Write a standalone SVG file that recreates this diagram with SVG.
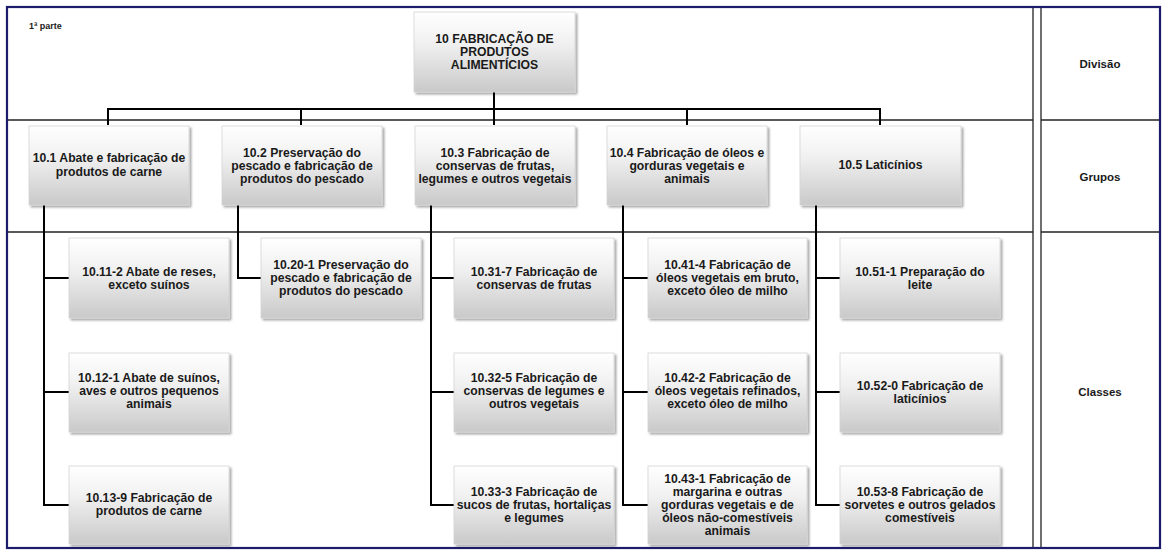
<svg xmlns="http://www.w3.org/2000/svg" width="1171" height="556" viewBox="0 0 1171 556">
<style>
.t{font-family:"Liberation Sans",Arial,sans-serif;font-weight:bold;font-size:12.2px;fill:#1a1a1a;text-anchor:middle}
.lbl{font-family:"Liberation Sans",Arial,sans-serif;font-weight:bold;font-size:11.5px;fill:#1a1a1a;text-anchor:middle}
.box{fill:url(#g);stroke:#d4d4d4;stroke-width:0.8;filter:url(#sh)}
.c{fill:none;stroke:#000;stroke-width:2}
.grid{fill:none;stroke:#222;stroke-width:1.3}
</style>
<defs>
<linearGradient id="g" x1="0" y1="0" x2="0" y2="1">
<stop offset="0" stop-color="#ffffff"/>
<stop offset="0.4" stop-color="#f0f0f0"/>
<stop offset="1" stop-color="#c9c9c9"/>
</linearGradient>
<filter id="sh" x="-10%" y="-10%" width="125%" height="130%">
<feDropShadow dx="2" dy="2" stdDeviation="1.2" flood-color="#000" flood-opacity="0.35"/>
</filter>
</defs>
<rect width="1171" height="556" fill="#fff"/>
<g id="frame">
<line class="grid" x1="7" y1="120" x2="1033" y2="120"/>
<line class="grid" x1="7" y1="232" x2="1033" y2="232"/>
<line class="grid" x1="1041" y1="120" x2="1160" y2="120"/>
<line class="grid" x1="1041" y1="232" x2="1160" y2="232"/>
<line class="grid" x1="1033" y1="7" x2="1033" y2="548"/>
<line class="grid" x1="1041" y1="7" x2="1041" y2="548"/>
<rect x="7" y="7" width="1153" height="541" fill="none" stroke="#1c1c6b" stroke-width="2.2"/>
<text x="29" y="29" font-family="Liberation Sans,Arial,sans-serif" font-weight="bold" font-size="9" fill="#1a1a1a">1ª parte</text>
<text class="lbl" x="1100" y="68">Divisão</text>
<text class="lbl" x="1100" y="181">Grupos</text>
<text class="lbl" x="1100" y="396">Classes</text>
</g>
<g id="connectors">
<path class="c" d="M494 92V125M108 125V109H880V125M301 109V125M687 109V125"/>
<path class="c" d="M44 205V505H69M44 278H69M44 392H69"/>
<path class="c" d="M238 205V278H261"/>
<path class="c" d="M431 205V505H454M431 278H454M431 392H454"/>
<path class="c" d="M623 205V505H648M623 278H648M623 392H648"/>
<path class="c" d="M816 205V505H840M816 278H840M816 392H840"/>
</g>
<g id="n10">
<rect class="box" x="414" y="12" width="161" height="80"/>
<text class="t" x="494.5" y="43">10 FABRICAÇÃO  DE</text>
<text class="t" x="494.5" y="56">PRODUTOS</text>
<text class="t" x="494.5" y="69">ALIMENTÍCIOS</text>
</g>
<g id="n10_1">
<rect class="box" x="29" y="126" width="160" height="79"/>
<text class="t" x="109" y="162">10.1 Abate e fabricação de</text>
<text class="t" x="109" y="176">produtos de carne</text>
</g>
<g id="n10_2">
<rect class="box" x="222" y="126" width="160" height="79"/>
<text class="t" x="302" y="157">10.2 Preservação do</text>
<text class="t" x="302" y="170">pescado e fabricação de</text>
<text class="t" x="302" y="183">produtos do pescado</text>
</g>
<g id="n10_3">
<rect class="box" x="415" y="126" width="160" height="79"/>
<text class="t" x="495" y="157">10.3 Fabricação de</text>
<text class="t" x="495" y="170">conservas de frutas,</text>
<text class="t" x="495" y="183">legumes  e outros vegetais</text>
</g>
<g id="n10_4">
<rect class="box" x="607" y="126" width="160" height="79"/>
<text class="t" x="687" y="157">10.4 Fabricação de óleos e</text>
<text class="t" x="687" y="170">gorduras vegetais e</text>
<text class="t" x="687" y="183">animais</text>
</g>
<g id="n10_5">
<rect class="box" x="800" y="126" width="161" height="79"/>
<text class="t" x="880.5" y="169">10.5 Laticínios</text>
</g>
<g id="n10_11">
<rect class="box" x="69" y="238" width="160" height="80"/>
<text class="t" x="149" y="276">10.11-2 Abate de reses,</text>
<text class="t" x="149" y="289">exceto suínos</text>
</g>
<g id="n10_12">
<rect class="box" x="69" y="353" width="160" height="79"/>
<text class="t" x="149" y="382">10.12-1 Abate de suínos,</text>
<text class="t" x="149" y="395">aves e outros pequenos</text>
<text class="t" x="149" y="408">animais</text>
</g>
<g id="n10_13">
<rect class="box" x="69" y="466" width="160" height="78"/>
<text class="t" x="149" y="502">10.13-9 Fabricação de</text>
<text class="t" x="149" y="515">produtos de carne</text>
</g>
<g id="n10_20">
<rect class="box" x="261" y="238" width="160" height="80"/>
<text class="t" x="341" y="269">10.20-1 Preservação do</text>
<text class="t" x="341" y="282">pescado e fabricação de</text>
<text class="t" x="341" y="295">produtos do pescado</text>
</g>
<g id="n10_31">
<rect class="box" x="454" y="238" width="160" height="80"/>
<text class="t" x="534" y="276">10.31-7 Fabricação de</text>
<text class="t" x="534" y="289">conservas de frutas</text>
</g>
<g id="n10_32">
<rect class="box" x="454" y="353" width="160" height="79"/>
<text class="t" x="534" y="382">10.32-5 Fabricação de</text>
<text class="t" x="534" y="395">conservas de legumes e</text>
<text class="t" x="534" y="408">outros vegetais</text>
</g>
<g id="n10_33">
<rect class="box" x="454" y="466" width="160" height="78"/>
<text class="t" x="534" y="496">10.33-3 Fabricação de</text>
<text class="t" x="534" y="509">sucos de frutas, hortaliças</text>
<text class="t" x="534" y="522">e legumes</text>
</g>
<g id="n10_41">
<rect class="box" x="648" y="238" width="159" height="80"/>
<text class="t" x="727.5" y="269">10.41-4 Fabricação de</text>
<text class="t" x="727.5" y="282">óleos vegetais em bruto,</text>
<text class="t" x="727.5" y="295">exceto óleo de milho</text>
</g>
<g id="n10_42">
<rect class="box" x="648" y="353" width="159" height="79"/>
<text class="t" x="727.5" y="382">10.42-2 Fabricação de</text>
<text class="t" x="727.5" y="395">óleos vegetais refinados,</text>
<text class="t" x="727.5" y="408">exceto óleo de milho</text>
</g>
<g id="n10_43">
<rect class="box" x="648" y="466" width="159" height="78"/>
<text class="t" x="727.5" y="483">10.43-1 Fabricação de</text>
<text class="t" x="727.5" y="496">margarina e outras</text>
<text class="t" x="727.5" y="509">gorduras vegetais e de</text>
<text class="t" x="727.5" y="522">óleos não-comestíveis</text>
<text class="t" x="727.5" y="535">animais</text>
</g>
<g id="n10_51">
<rect class="box" x="840" y="238" width="160" height="80"/>
<text class="t" x="920" y="276">10.51-1 Preparação do</text>
<text class="t" x="920" y="289">leite</text>
</g>
<g id="n10_52">
<rect class="box" x="840" y="353" width="160" height="79"/>
<text class="t" x="920" y="390">10.52-0 Fabricação de</text>
<text class="t" x="920" y="403">laticínios</text>
</g>
<g id="n10_53">
<rect class="box" x="840" y="466" width="160" height="78"/>
<text class="t" x="920" y="496">10.53-8 Fabricação de</text>
<text class="t" x="920" y="509">sorvetes e outros gelados</text>
<text class="t" x="920" y="522">comestíveis</text>
</g>
</svg>
